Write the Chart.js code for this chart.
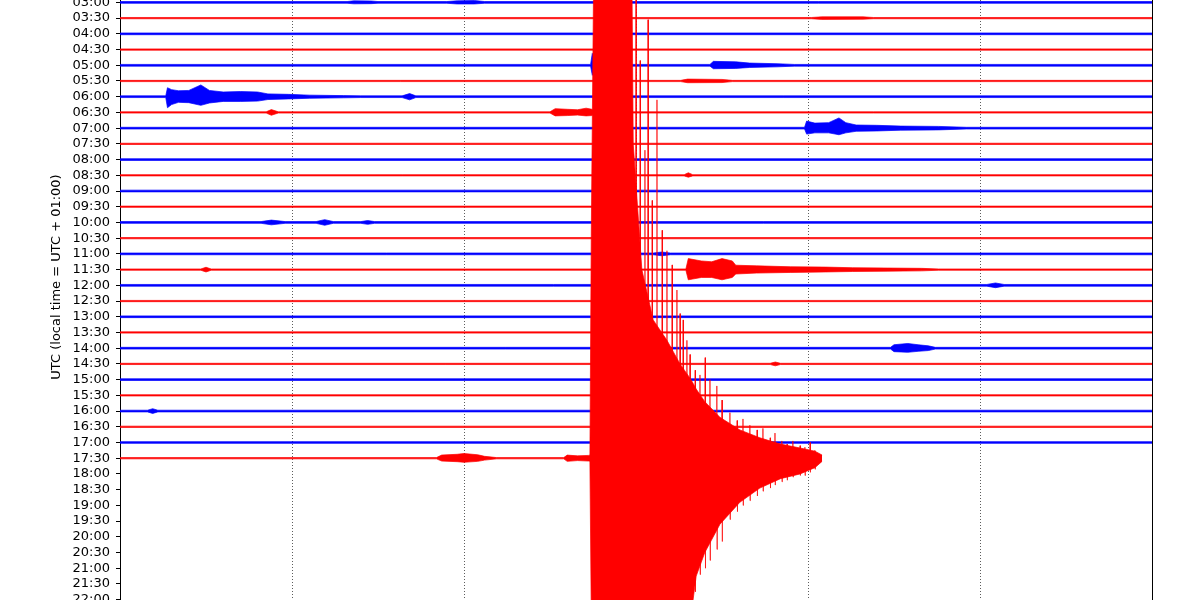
<!DOCTYPE html>
<html>
<head>
<meta charset="utf-8">
<script src="https://cdn.jsdelivr.net/npm/chart.js@4.4.1/dist/chart.umd.min.js"></script>
<style>
  html, body { margin: 0; padding: 0; background: #fff; }
</style>
</head>
<body>
<canvas id="heli" width="1200" height="600"></canvas>
<script>
// ============================================================
// DATA (read off the helicorder, amplitudes in row spacings)
// ============================================================

// one row per 30 minutes, x axis = minutes into the row
const rowLabels = [
  "03:00","03:30","04:00","04:30","05:00","05:30","06:00","06:30","07:00","07:30",
  "08:00","08:30","09:00","09:30","10:00","10:30","11:00","11:30","12:00","12:30",
  "13:00","13:30","14:00","14:30","15:00","15:30","16:00","16:30","17:00","17:30",
  "18:00","18:30","19:00","19:30","20:00","20:30","21:00","21:30","22:00"
];
const traceColors = ["#0000ff", "#ff0000"];
const lastRow = 29;        // 17:30 is the last row with data
const lastRowEnd = 20.41;  // minutes, trace stops here

// background noise half-width per row
const noiseAmp = [
  0.055, 0.04, 0.055, 0.04, 0.055, 0.04, 0.055, 0.04, 0.055, 0.04,
  0.055, 0.04, 0.055, 0.04, 0.055, 0.04, 0.055, 0.04, 0.055, 0.04,
  0.055, 0.04, 0.055, 0.04, 0.055, 0.04, 0.055, 0.04, 0.055, 0.04
];

// envelope points of local events: [row, minute, up, down]
const eventPts = [
  [0, 6.6, .055, .055], [0, 6.8, .1, .09], [0, 7.3, .09, .08], [0, 7.5, .055, .055],
  [0, 9.5, .055, .055], [0, 9.8, .1, .1], [0, 10.3, .12, .1], [0, 10.6, .055, .055],
  [1, 20.1, .04, .04], [1, 20.4, .08, .08], [1, 21.6, .08, .07], [1, 21.9, .04, .04],
  [4, 13.68, .055, .055], [4, 13.73, .76, .64], [4, 13.8, .2, .2], [4, 14.1, .08, .08], [4, 14.3, .055, .055],
  [4, 17.15, .055, .055], [4, 17.25, .25, .22], [4, 17.9, .22, .2], [4, 18.3, .14, .14],
  [4, 19.1, .1, .1], [4, 19.6, .055, .055],
  [5, 16.3, .04, .04], [5, 16.5, .12, .11], [5, 17.5, .1, .1], [5, 17.8, .04, .04],
  [6, 1.33, .055, .055], [6, 1.38, .57, .7], [6, 1.5, .45, .5], [6, 1.7, .38, .36], [6, 2.0, .4, .38],
  [6, 2.35, .75, .55], [6, 2.6, .4, .4], [6, 3.0, .3, .3], [6, 3.5, .33, .3], [6, 4.0, .3, .28],
  [6, 4.3, .18, .18], [6, 4.9, .15, .14], [6, 5.5, .1, .1], [6, 6.5, .07, .07], [6, 7.0, .055, .055],
  [6, 8.2, .055, .055], [6, 8.42, .2, .2], [6, 8.6, .055, .055],
  [7, 4.25, .04, .04], [7, 4.4, .18, .18], [7, 4.6, .04, .04],
  [7, 12.5, .04, .04], [7, 12.65, .24, .22], [7, 13.0, .2, .2], [7, 13.3, .17, .17],
  [7, 13.55, .27, .22], [7, 13.72, .2, .2], [7, 13.8, .04, .04],
  [8, 19.9, .055, .055], [8, 19.96, .45, .38], [8, 20.2, .32, .3], [8, 20.6, .35, .3], [8, 20.9, .65, .42],
  [8, 21.1, .35, .3], [8, 21.4, .2, .2], [8, 22.0, .18, .18], [8, 22.7, .13, .13], [8, 23.8, .11, .11],
  [8, 24.6, .055, .055],
  [11, 16.4, .04, .04], [11, 16.52, .16, .12], [11, 16.65, .04, .04],
  [14, 4.1, .055, .055], [14, 4.4, .15, .15], [14, 4.8, .055, .055], [14, 5.7, .055, .055], [14, 5.95, .18, .18],
  [14, 6.2, .055, .055], [14, 7.0, .055, .055], [14, 7.2, .12, .12], [14, 7.4, .055, .055],
  [16, 15.5, .055, .055], [16, 15.75, .12, .12], [16, 16.0, .055, .055],
  [17, 2.35, .04, .04], [17, 2.5, .15, .15], [17, 2.65, .04, .04],
  [17, 16.45, .04, .04], [17, 16.52, .7, .65], [17, 16.9, .55, .5], [17, 17.2, .5, .5], [17, 17.5, .7, .65],
  [17, 17.8, .55, .5], [17, 17.9, .28, .28], [17, 18.5, .24, .22], [17, 19.5, .18, .18], [17, 20.5, .16, .15],
  [17, 21.3, .12, .12], [17, 22.3, .1, .1], [17, 23.3, .08, .08], [17, 23.8, .04, .04],
  [18, 25.2, .055, .055], [18, 25.45, .15, .15], [18, 25.7, .055, .055],
  [22, 22.4, .055, .055], [22, 22.5, .22, .22], [22, 22.9, .3, .26], [22, 23.2, .22, .2], [22, 23.5, .15, .15],
  [22, 23.7, .055, .055],
  [23, 18.9, .04, .04], [23, 19.05, .12, .12], [23, 19.2, .04, .04],
  [26, 0.8, .055, .055], [26, 0.95, .15, .15], [26, 1.1, .055, .055],
  [29, 9.2, .04, .04], [29, 9.35, .2, .18], [29, 9.8, .25, .22], [29, 10.0, .3, .26], [29, 10.4, .22, .2],
  [29, 10.6, .12, .12], [29, 10.95, .04, .04], [29, 12.9, .04, .04], [29, 13.0, .2, .2], [29, 13.3, .15, .15],
  [29, 13.62, .18, .18]
];

// the big quake on the 17:30 row: dense body envelope
const quakeTime = [13.66, 13.70, 13.77, 14.88, 14.92, 15.17, 15.5, 15.9, 16.28, 16.6,
                   16.75, 17.0, 17.44, 18.02, 18.6, 19.2, 19.77, 20.2, 20.41];
const quakeUp   = [0.2, 14.2, 31, 31, 20, 12, 8.8, 7.5, 6.0, 5.0,
                   4.4, 3.6, 2.6, 1.8, 1.3, 0.9, 0.65, 0.45, 0.2];
const quakeDown = [0.2, 10, 10, 10, 10, 10, 10, 10, 10, 10,
                   7.5, 6.0, 4.2, 2.8, 1.9, 1.3, 1.0, 0.6, 0.2];

// ...and its single largest swings
const spikeTime = [15.0, 15.12, 15.26, 15.35, 15.47, 15.61, 15.76, 15.9, 16.05, 16.19,
                   16.28, 16.37, 16.48, 16.57, 16.72, 16.86, 17.01, 17.15, 17.35, 17.5,
                   17.73, 17.94, 18.11, 18.31, 18.52, 18.69, 18.9, 19.04, 19.24, 19.39,
                   19.56, 19.77, 19.91, 20.06, 20.2];
const spikeUp   = [31, 25.3, 19.6, 27.9, 16.4, 22.8, 14.5, 13.2, 12.3, 10.7,
                   9.2, 8.8, 7.5, 6.6, 5.6, 5.3, 6.4, 5.0, 4.6, 3.7,
                   2.9, 2.4, 2.5, 2.1, 1.8, 1.9, 1.3, 1.6, 1.1, 0.9,
                   1.1, 0.8, 0.7, 1.0, 0.5];
const spikeDown = [10, 10, 10, 10, 10, 10, 10, 10, 10, 10,
                   10, 10, 10, 10, 8.5, 7.4, 7.0, 6.5, 5.8, 5.3,
                   3.9, 3.4, 3.0, 2.7, 2.4, 2.1, 1.9, 1.7, 1.5, 1.4,
                   1.2, 1.1, 1.1, 0.9, 0.7];


// ============================================================
// BUILD TRACES (upper / lower envelope per row, filled between)
// ============================================================

function rowEnvelope(r) {
  const n = noiseAmp[r];
  const end = r === lastRow ? lastRowEnd : 30;
  let pts = eventPts.filter(p => p[0] === r).map(p => [p[1], p[2], p[3]]);
  if (r === lastRow) {
    quakeTime.forEach((t, i) => pts.push([t, quakeUp[i], quakeDown[i]]));
  }
  pts.sort((a, b) => a[0] - b[0]);
  if (!pts.length || pts[0][0] > 0) pts.unshift([0, n, n]);
  if (pts[pts.length - 1][0] < end) pts.push([end, n, n]);

  return {
    top: pts.map(p => ({ x: p[0], y: r - p[1] })),
    bottom: pts.map(p => ({ x: p[0], y: r + p[2] }))
  };
}

function spikePoints(r) {
  const pts = [];
  spikeTime.forEach((t, i) => {
    pts.push({ x: t - 0.01, y: r });
    pts.push({ x: t, y: r - spikeUp[i] });
    pts.push({ x: t + 0.005, y: r + spikeDown[i] });
    pts.push({ x: t + 0.015, y: r });
  });
  return pts;
}

const lineBase = { pointRadius: 0, tension: 0, borderWidth: 0.7 };
const datasets = [];

// lower index = drawn later, so the quake row goes first
datasets.push({ ...lineBase, label: "spikes", data: spikePoints(lastRow),
  borderColor: traceColors[1], fill: false, order: 0 });

for (let r = lastRow; r >= 0; r--) {
  const env = rowEnvelope(r);
  const col = traceColors[r % 2];
  datasets.push({ ...lineBase, label: rowLabels[r] + " top", data: env.top,
    borderColor: col, fill: false, order: 1 + (lastRow - r) });
  datasets.push({ ...lineBase, label: rowLabels[r], data: env.bottom,
    borderColor: col, backgroundColor: col, fill: "-1", order: 1 + (lastRow - r) });
}


// ============================================================
// CHART
// ============================================================

Chart.defaults.font.family = "'DejaVu Sans', sans-serif";
Chart.defaults.font.size = 13;
Chart.defaults.color = "#000";

const yTitle = {
  id: "yTitle",
  afterDraw(chart) {
    const ctx = chart.ctx;
    ctx.save();
    ctx.translate(57, 277);
    ctx.rotate(-Math.PI / 2);
    ctx.textAlign = "center";
    ctx.textBaseline = "middle";
    ctx.fillStyle = "#000";
    ctx.font = "13px 'DejaVu Sans', sans-serif";
    ctx.fillText("UTC (local time = UTC + 01:00)", 0, 0);
    ctx.restore();
  }
};

new Chart(document.getElementById("heli"), {
  type: "line",
  data: { datasets },
  plugins: [yTitle],
  options: {
    responsive: false,
    devicePixelRatio: 1,
    animation: false,
    parsing: false,
    events: [],
    layout: { padding: { left: 0, right: 48, top: 0, bottom: 0 } },
    plugins: {
      legend: { display: false },
      tooltip: { enabled: false },
      filler: { drawTime: "beforeDatasetDraw" }
    },
    scales: {
      x: {
        type: "linear",
        min: 0,
        max: 30,
        ticks: { display: false, stepSize: 5 },
        grid: { color: "#333", lineWidth: 0.8, drawTicks: false },
        border: { display: false, dash: [1, 2] },
        afterFit(s) { s.height = 0; s.paddingLeft = 0; s.paddingRight = 0; }
      },
      y: {
        type: "linear",
        reverse: true,
        min: -0.153,
        max: 38.02,
        afterBuildTicks(s) { s.ticks = rowLabels.map((_, i) => ({ value: i })); },
        ticks: {
          autoSkip: false,
          padding: 6,
          color: "#000",
          callback: v => rowLabels[v]
        },
        grid: { drawOnChartArea: false, drawTicks: true, tickLength: 4, tickColor: "#000", tickWidth: 1 },
        border: { display: true, color: "#000", width: 1 },
        afterFit(s) { s.width = 120; s.paddingTop = 0; s.paddingBottom = 0; }
      },
      yRight: {
        type: "linear",
        position: "right",
        display: true,
        ticks: { display: false },
        grid: { drawOnChartArea: false, drawTicks: false },
        border: { display: true, color: "#000", width: 1 },
        afterFit(s) { s.width = 0; s.paddingTop = 0; s.paddingBottom = 0; }
      }
    }
  }
});
</script>
</body>
</html>
